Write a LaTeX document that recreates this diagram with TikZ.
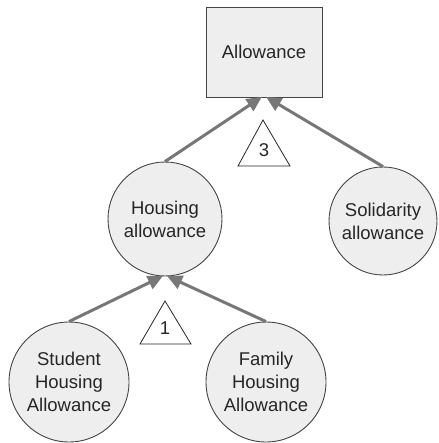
\documentclass[tikz,border=0pt]{standalone}
\usepackage{fontspec}
\setmainfont{Liberation Sans}
\usetikzlibrary{arrows.meta}
\definecolor{nodefill}{HTML}{EEEEEE}
\definecolor{edgegray}{HTML}{777777}
\definecolor{bordergray}{HTML}{444444}
\tikzset{
  lbl/.style={font=\fontsize{18.5}{23}\selectfont, align=center, text=black!85},
  rootbox/.style={lbl, draw=bordergray, fill=nodefill, line width=0.9pt, minimum width=116pt, minimum height=90pt, inner sep=0pt},
  circ/.style={lbl, circle, draw=bordergray, fill=nodefill, line width=0.9pt, inner sep=0pt},
  conn/.style={draw=edgegray, line width=3pt, -{Triangle[length=15pt,width=14pt]}, shorten >=-1pt},
  tri/.style={draw=black!85, line width=0.8pt, fill=white, line join=miter},
  trilbl/.style={font=\fontsize{18.5}{23}\selectfont, text=black!85, inner sep=0pt}
}
\begin{document}
\begin{tikzpicture}[x=1pt,y=-1pt]
\useasboundingbox (0,0) rectangle (438,443);
\node[rootbox] (top) at (264,52) {Allowance};
\node[circ, minimum size=114pt] (hous) at (165,219) {Housing\\allowance};
\node[circ, minimum size=108pt] (sol) at (383,221) {Solidarity\\allowance};
\node[circ, minimum size=120pt] (stu) at (69,382) {Student\\Housing\\Allowance};
\node[circ, minimum size=120pt] (fam) at (266,382) {Family\\Housing\\Allowance};
\coordinate (topL) at ([xshift=-3pt]top.south);
\coordinate (topR) at ([xshift=3pt]top.south);
\coordinate (housL) at ([xshift=-3pt]hous.south);
\coordinate (housR) at ([xshift=3pt]hous.south);
\draw[conn] (hous.north) -- (topL);
\draw[conn] (sol.north) -- (topR);
\draw[conn] (stu.north) -- (housL);
\draw[conn] (fam.north) -- (housR);
\draw[tri] (263,120) -- (238,166) -- (290,166) -- cycle;
\node[trilbl] (t3) at (264,150) {3};
\draw[tri] (165,301) -- (140,344) -- (191,344) -- cycle;
\node[trilbl] (t1) at (165,328) {1};
\end{tikzpicture}
\end{document}
